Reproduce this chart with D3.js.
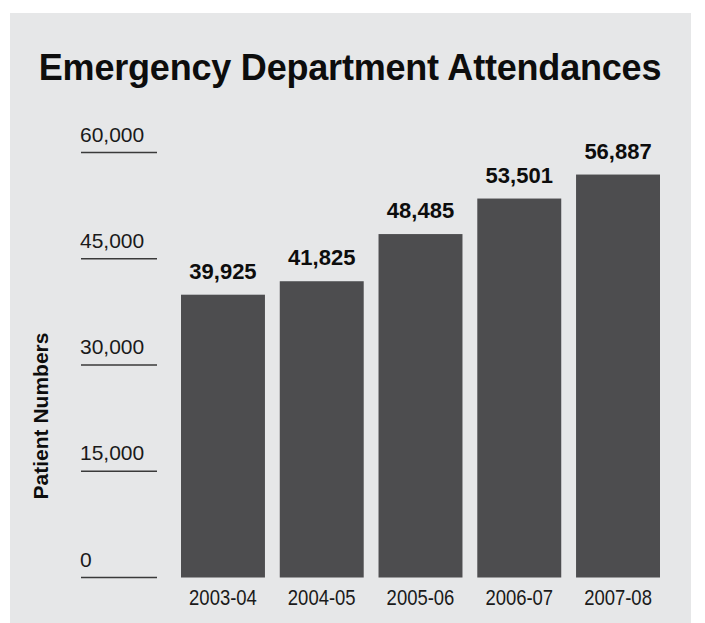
<!DOCTYPE html>
<html>
<head>
<meta charset="utf-8">
<script src="https://cdn.jsdelivr.net/npm/d3@7"></script>
<style>
  html, body { margin: 0; padding: 0; background: #ffffff; }
  svg { display: block; }
</style>
</head>
<body>
<svg id="chart" width="705" height="623"></svg>
<script>
// Emergency Department attendances per financial year
const years = ["2003-04", "2004-05", "2005-06", "2006-07", "2007-08"];
const attendances = [39925, 41825, 48485, 53501, 56887];
const yTicks = [0, 15000, 30000, 45000, 60000];

const svg = d3.select("#chart");
const FONT = "'Liberation Sans', Arial, Helvetica, sans-serif";

// grey panel behind the chart
svg.append("rect")
  .attr("x", 10).attr("y", 13)
  .attr("width", 681).attr("height", 610)
  .attr("fill", "#e6e7e8");

// title
svg.append("text")
  .attr("x", 350).attr("y", 80)
  .attr("text-anchor", "middle")
  .attr("font-family", FONT)
  .attr("font-weight", "bold")
  .attr("font-size", 36)
  .attr("letter-spacing", "-0.2")
  .attr("fill", "#0d0d0d")
  .text("Emergency Department Attendances");

const y = d3.scaleLinear().domain([0, 60000]).range([577.5, 152.5]);
const x = d3.scaleBand().domain(years).range([181, 660]).paddingInner(0.15).paddingOuter(0);

// y ticks: a short rule per tick with its label sitting on top
const yAxis = svg.append("g").attr("class", "y-axis");
const tick = yAxis.selectAll("g").data(yTicks).join("g")
  .attr("transform", d => `translate(0,${y(d)})`);
tick.append("line")
  .attr("x1", 81).attr("x2", 157)
  .attr("stroke", "#3a3a3a").attr("stroke-width", 1.6);
tick.append("text")
  .attr("x", 80).attr("y", -11)
  .attr("font-family", FONT)
  .attr("font-size", 21)
  .attr("fill", "#1a1a1a")
  .text(d => d3.format(",")(d));

// y axis title
svg.append("text")
  .attr("transform", "translate(48,416) rotate(-90)")
  .attr("text-anchor", "middle")
  .attr("font-family", FONT)
  .attr("font-weight", "bold")
  .attr("font-size", 21)
  .attr("fill", "#0d0d0d")
  .text("Patient Numbers");

// bars
svg.append("g").selectAll("rect").data(years).join("rect")
  .attr("x", d => x(d))
  .attr("y", (d, i) => y(attendances[i]))
  .attr("width", x.bandwidth())
  .attr("height", (d, i) => y(0) - y(attendances[i]))
  .attr("fill", "#4d4d4f");

// value labels
svg.append("g").selectAll("text").data(years).join("text")
  .attr("x", d => x(d) + x.bandwidth() / 2)
  .attr("y", (d, i) => y(attendances[i]) - 16)
  .attr("text-anchor", "middle")
  .attr("font-family", FONT)
  .attr("font-weight", "bold")
  .attr("font-size", 22)
  .attr("fill", "#0d0d0d")
  .text((d, i) => d3.format(",")(attendances[i]));

// category labels, horizontally condensed
svg.append("g").selectAll("text").data(years).join("text")
  .attr("transform", d => `translate(${x(d) + x.bandwidth() / 2},605) scale(0.84,1)`)
  .attr("text-anchor", "middle")
  .attr("font-family", FONT)
  .attr("font-size", 22)
  .attr("fill", "#1a1a1a")
  .text(d => d);
</script>
</body>
</html>
